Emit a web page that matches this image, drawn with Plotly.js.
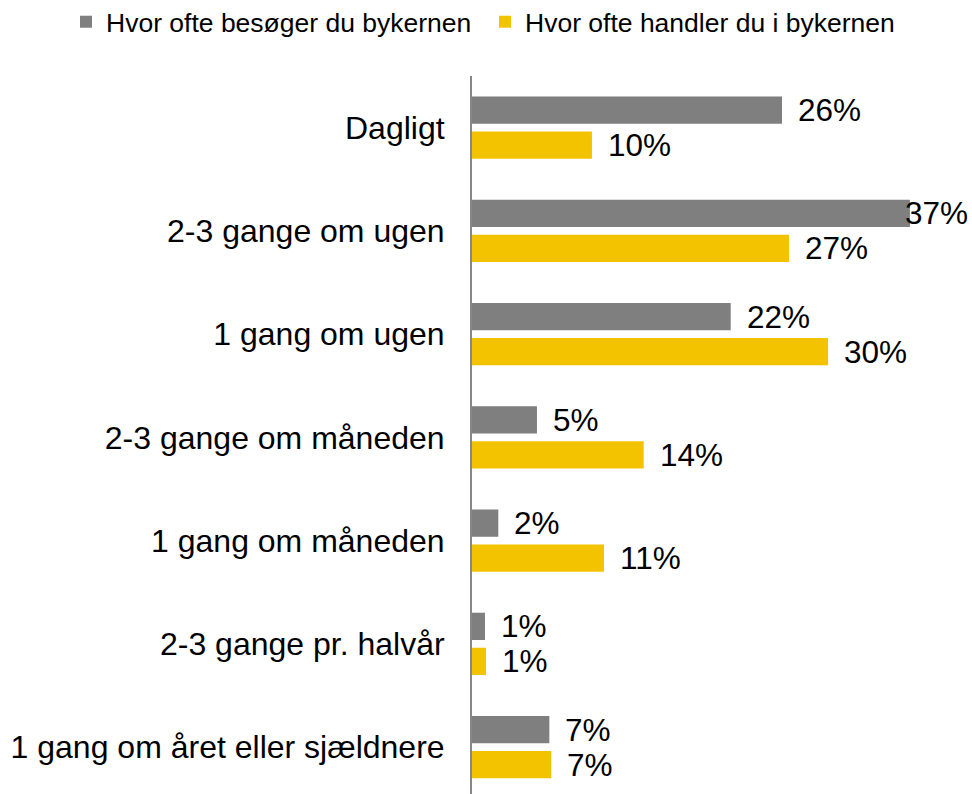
<!DOCTYPE html>
<html>
<head>
<meta charset="utf-8">
<script src="https://cdn.plot.ly/plotly-3.0.1.min.js"></script>
<style>html,body{margin:0;padding:0;background:#fff;}#chart{width:972px;height:794px;}</style>
</head>
<body>
<div id="chart"></div>
<script>
const categories = [
  "Dagligt",
  "2-3 gange om ugen",
  "1 gang om ugen",
  "2-3 gange om måneden",
  "1 gang om måneden",
  "2-3 gange pr. halvår",
  "1 gang om året eller sjældnere"
];
const seriesNames = ["Hvor ofte besøger du bykernen", "Hvor ofte handler du i bykernen"];
const visitValues = [26.05, 36.8, 21.74, 5.46, 2.21, 1.09, 6.5];
const shopValues  = [10.08, 26.64, 29.92, 14.43, 11.09, 1.18, 6.66];

const GRAY = "#7f7f7f", YELLOW = "#f4c300";
const FONT = "Liberation Sans, Arial, sans-serif";
const W = 972, H = 794, ML = 472, MR = 0, MT = 76, MB = 0;
const pxPerUnit = 11.9;
const plotW = W - ML - MR, plotH = H - MT - MB;
const xMax = plotW / pxPerUnit;
const catPx = 103.25;
const yBottom = -0.5 + plotH / catPx;

const traces = [
  {type: "bar", orientation: "h", name: seriesNames[0], y: categories, x: visitValues,
   marker: {color: GRAY}, hoverinfo: "none"},
  {type: "bar", orientation: "h", name: seriesNames[1], y: categories, x: shopValues,
   marker: {color: YELLOW}, hoverinfo: "none"}
];

const annotations = [];
[[visitValues, 17.5], [shopValues, -17.5]].forEach(([vals, ys]) => {
  vals.forEach((v, i) => {
    const label = Math.round(v) + "%";
    const endPx = v * pxPerUnit;
    let xshift = 14;
    if (endPx + 14 + 62 > plotW) xshift = -7;
    annotations.push({
      x: v, y: categories[i], xref: "x", yref: "y",
      text: label, showarrow: false, xanchor: "left", yanchor: "middle",
      xshift: xshift, yshift: ys,
      font: {family: FONT, size: 31.5, color: "#000"}
    });
  });
});

const legendLeftPx = 66;
const layout = {
  width: W, height: H,
  paper_bgcolor: "#fff", plot_bgcolor: "#fff",
  margin: {l: ML, r: MR, t: MT, b: MB, pad: 0, autoexpand: false},
  barmode: "group", bargap: 0.322, bargroupgap: 0.22,
  font: {family: FONT, color: "#000"},
  xaxis: {range: [0, xMax], showgrid: false, zeroline: false, showticklabels: false,
          ticks: "", showline: false, fixedrange: true},
  yaxis: {type: "category", range: [yBottom, -0.5], showgrid: false, zeroline: false,
          showline: true, linecolor: "#878787", linewidth: 2, ticks: "",
          ticklabelstandoff: 19,
          tickfont: {family: FONT, size: 32, color: "#000"}, fixedrange: true},
  showlegend: true,
  legend: {orientation: "h", xref: "paper", yref: "paper",
           x: (legendLeftPx - ML) / plotW, xanchor: "left",
           y: 1 + (MT + 2) / plotH, yanchor: "top",
           entrywidth: 374,
           font: {family: FONT, size: 26.5, color: "#000"},
           traceorder: "normal", itemclick: false, itemdoubleclick: false},
  annotations: annotations
};

Plotly.newPlot("chart", traces, layout, {displayModeBar: false, staticPlot: true});
</script>
</body>
</html>
